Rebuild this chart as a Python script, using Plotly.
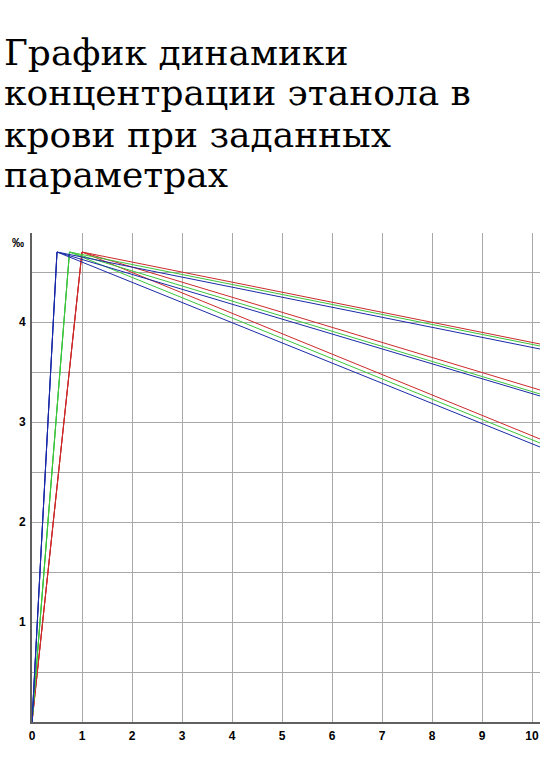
import plotly.graph_objects as go

# Title lines as they wrap in the picture
title_lines = ['График динамики', 'концентрации этанола в', 'крови при заданных', 'параметрах']

# Time points (hours): start, peak, right edge of the plot
edge_x = 10.16
peak_x = {'blue': 0.5, 'green': 0.75, 'red': 1.0}
peak_y = {'blue': 4.70, 'green': 4.70, 'red': 4.70}

# Concentration at the right edge for the three elimination rates (slow, mid, fast)
end_y = {
    'blue': [3.73, 3.26, 2.75],
    'green': [3.76, 3.28, 2.79],
    'red': [3.78, 3.32, 2.83],
}
rates = ['0.10', '0.15', '0.20']

colors = {'blue': '#1a2aa8', 'green': '#3cc43c', 'red': '#cc2a2a'}

y_ticks = [0.5, 1, 1.5, 2, 2.5, 3, 3.5, 4, 4.5]
y_labels = ['', '1', '', '2', '', '3', '', '4', '']
x_ticks = [0, 1, 2, 3, 4, 5, 6, 7, 8, 9, 10]

fig = go.Figure()
for c in ['red', 'green', 'blue']:
    for i, r in enumerate(rates):
        fig.add_trace(go.Scatter(
            x=[0, peak_x[c], edge_x],
            y=[0, peak_y[c], end_y[c][i]],
            mode='lines',
            line=dict(color=colors[c], width=1),
            name=c + ' ' + r,
            showlegend=False,
            hoverinfo='skip',
        ))

tick_font = dict(family='Liberation Sans, Arial', size=12, color='black')

fig.update_xaxes(
    range=[0, edge_x],
    tickvals=x_ticks,
    ticktext=['<b>%d</b>' % v for v in x_ticks],
    tickfont=tick_font,
    showgrid=True,
    gridcolor='#a8a8a8',
    gridwidth=1,
    showline=True,
    linecolor='#606060',
    linewidth=2,
    zeroline=False,
    ticks='',
    automargin=False,
    ticklabeloverflow='allow',
    ticklabelstandoff=2,
)
fig.update_yaxes(
    range=[0, 4.89],
    tickvals=y_ticks,
    ticktext=['<b>%s</b>' % t if t else '' for t in y_labels],
    tickfont=tick_font,
    showgrid=True,
    gridcolor='#a8a8a8',
    gridwidth=1,
    showline=True,
    linecolor='#606060',
    linewidth=2,
    zeroline=False,
    ticks='',
    automargin=False,
    ticklabelstandoff=2,
)

# Title, one annotation per line so the spacing matches
title_y = [52, 93, 134, 174]
annotations = []
for text, py in zip(title_lines, title_y):
    annotations.append(dict(
        text=text, xref='paper', yref='paper',
        x=-30 / 508, y=(722 - py) / 489,
        xanchor='left', yanchor='middle', showarrow=False,
        font=dict(family='DejaVu Serif', size=36, color='black'),
    ))
annotations.append(dict(
    text='<b>‰</b>', xref='paper', yref='paper',
    x=-0.012, y=(722 - 243) / 489, xanchor='right', yanchor='middle',
    showarrow=False, font=dict(family='Liberation Sans, Arial', size=12, color='black'),
))

fig.update_layout(
    width=540, height=771,
    margin=dict(l=32, r=0, t=233, b=49),
    plot_bgcolor='white',
    paper_bgcolor='white',
    annotations=annotations,
)

# drop the default 8px page margin so the figure fills the window
fig.write_html('out.html', config={'displayModeBar': False},
               post_script="document.body.style.margin = '0';")
